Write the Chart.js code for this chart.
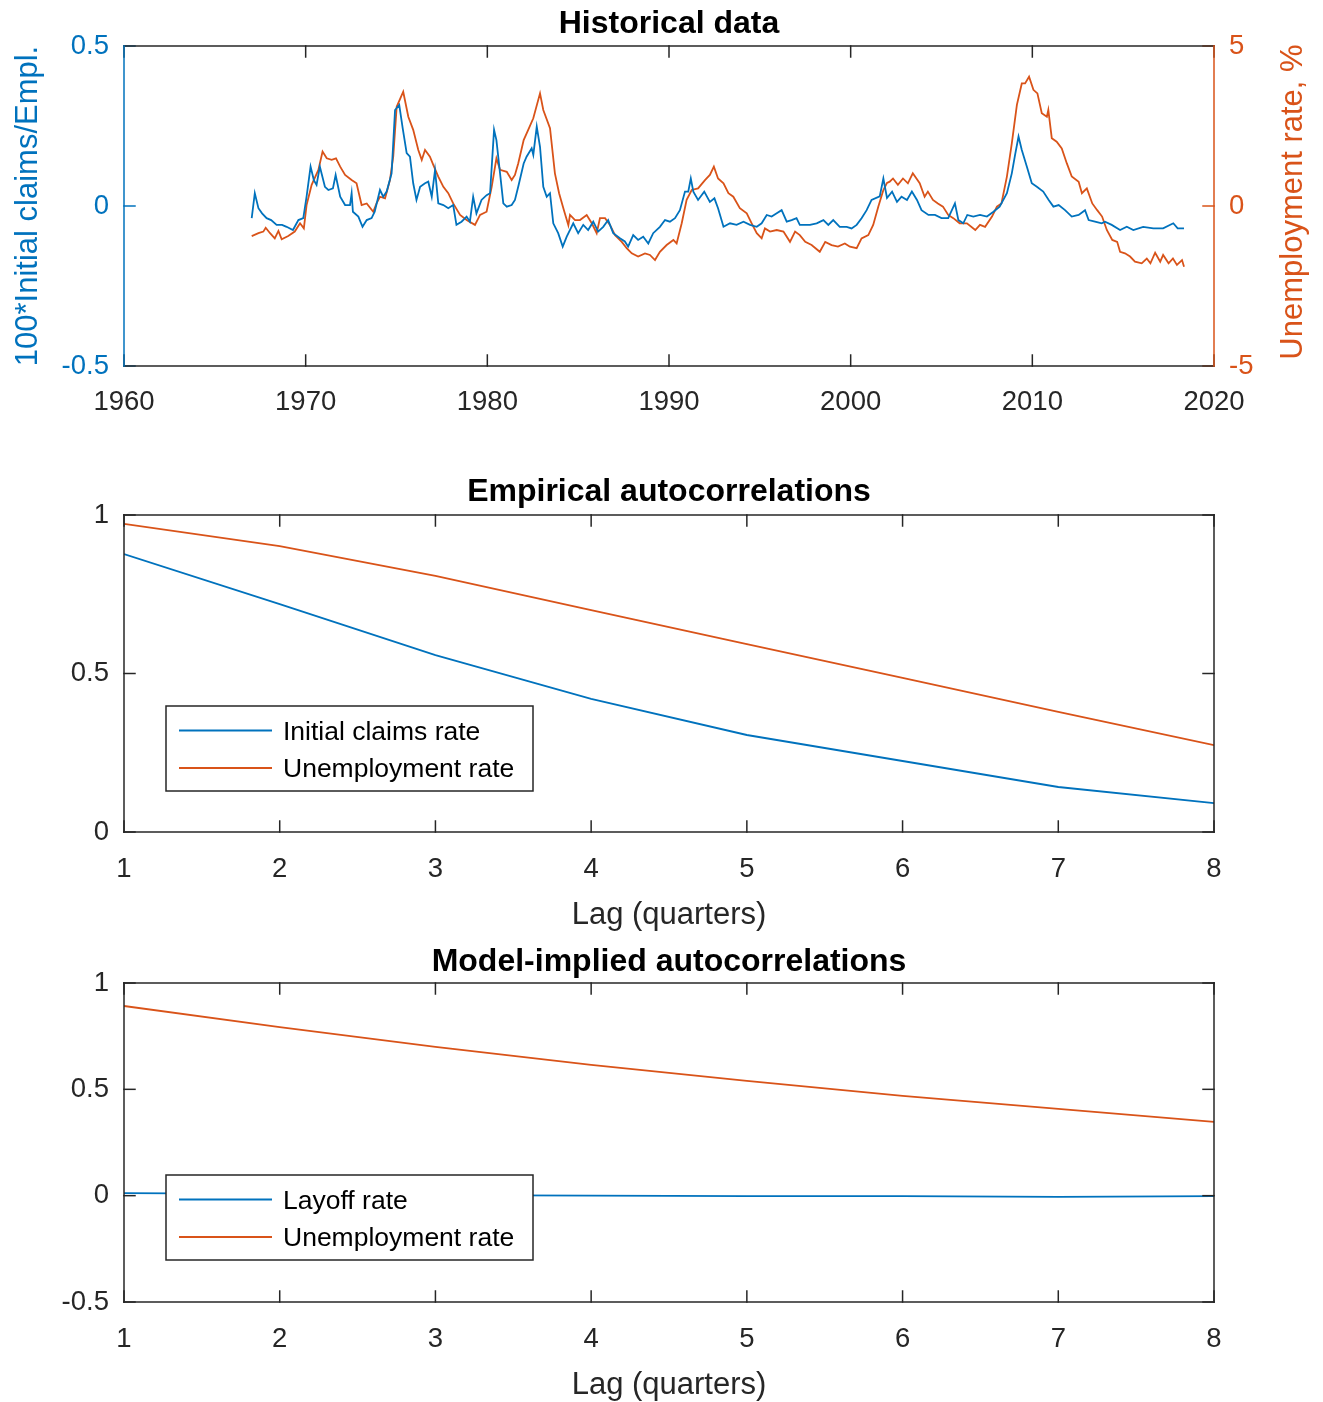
<!DOCTYPE html>
<html><head><meta charset="utf-8">
<script src="https://cdn.jsdelivr.net/npm/chart.js@4.4.0/dist/chart.umd.min.js"></script>
<style>
html,body{margin:0;padding:0;background:#fff;overflow:hidden;}
.wrap{position:absolute;left:0;width:1323px;}
canvas{display:block;}
</style></head><body>
<div class="wrap" style="top:0;height:440px"><canvas id="c1" width="1323" height="440"></canvas></div>
<div class="wrap" style="top:440px;height:500px"><canvas id="c2" width="1323" height="500"></canvas></div>
<div class="wrap" style="top:940px;height:462px"><canvas id="c3" width="1323" height="462"></canvas></div>
<script>
const FONT = "'Liberation Sans', Arial, Helvetica, sans-serif";
const BLUE = '#0072BD', ORANGE = '#D95319', AXIS = '#262626';

// ---- Historical data ----
const claimsYears = [1967.03,1967.2,1967.4,1967.6,1967.85,1968.1,1968.4,1968.7,1968.95,1969.3,1969.6,1969.87,1970.05,1970.27,1970.45,1970.6,1970.78,1971.06,1971.25,1971.5,1971.65,1971.9,1972.17,1972.44,1972.53,1972.6,1972.9,1973.13,1973.36,1973.63,1973.8,1974.09,1974.27,1974.46,1974.73,1974.92,1975.15,1975.34,1975.56,1975.74,1975.92,1976.1,1976.3,1976.57,1976.75,1976.94,1977.12,1977.3,1977.58,1977.85,1978.12,1978.3,1978.58,1978.86,1979.04,1979.22,1979.4,1979.68,1979.96,1980.15,1980.37,1980.5,1980.7,1980.88,1981.07,1981.34,1981.52,1981.7,1982.0,1982.16,1982.44,1982.53,1982.72,1982.9,1983.08,1983.27,1983.45,1983.63,1983.9,1984.15,1984.37,1984.73,1985.0,1985.28,1985.55,1985.83,1986.1,1986.38,1986.65,1986.93,1987.3,1987.57,1987.75,1988.03,1988.3,1988.58,1988.86,1989.13,1989.5,1989.78,1990.05,1990.33,1990.6,1990.88,1991.06,1991.2,1991.34,1991.6,1991.94,1992.25,1992.5,1992.7,1993.0,1993.36,1993.72,1994.1,1994.46,1994.83,1995.1,1995.38,1995.65,1995.93,1996.2,1996.48,1996.75,1997.02,1997.2,1997.76,1998.13,1998.5,1998.77,1999.04,1999.4,1999.78,2000.05,2000.33,2000.6,2000.88,2001.15,2001.6,2001.8,2002.0,2002.28,2002.55,2002.8,2003.1,2003.37,2003.65,2003.9,2004.28,2004.64,2005.0,2005.37,2005.74,2005.93,2006.2,2006.42,2006.75,2007.12,2007.5,2007.86,2008.2,2008.6,2008.87,2009.05,2009.24,2009.42,2009.7,2009.97,2010.25,2010.6,2010.9,2011.16,2011.45,2011.8,2012.17,2012.55,2012.9,2013.1,2013.45,2013.82,2014.0,2014.37,2014.83,2015.2,2015.56,2016.1,2016.66,2017.2,2017.76,2018.0,2018.35];
const claimsValues = [-0.038,0.040,-0.007,-0.023,-0.038,-0.044,-0.059,-0.059,-0.065,-0.075,-0.044,-0.038,0.029,0.123,0.081,0.066,0.123,0.060,0.050,0.055,0.097,0.029,0.003,0.003,0.040,-0.018,-0.033,-0.065,-0.044,-0.038,-0.018,0.050,0.029,0.045,0.102,0.300,0.316,0.243,0.165,0.154,0.071,0.019,0.060,0.071,0.076,0.029,0.112,0.008,0.003,-0.007,0.003,-0.059,-0.049,-0.033,-0.049,0.029,-0.023,0.019,0.034,0.040,0.238,0.206,0.102,0.008,-0.002,0.003,0.019,0.060,0.133,0.154,0.180,0.160,0.248,0.185,0.060,0.029,0.040,-0.054,-0.085,-0.127,-0.096,-0.054,-0.085,-0.059,-0.075,-0.049,-0.080,-0.065,-0.044,-0.085,-0.101,-0.111,-0.127,-0.091,-0.106,-0.096,-0.117,-0.085,-0.065,-0.044,-0.049,-0.038,-0.013,0.045,0.045,0.086,0.045,0.019,0.045,0.013,0.024,-0.007,-0.065,-0.054,-0.059,-0.049,-0.059,-0.065,-0.054,-0.028,-0.033,-0.023,-0.013,-0.049,-0.044,-0.038,-0.059,-0.059,-0.054,-0.044,-0.059,-0.044,-0.065,-0.065,-0.070,-0.059,-0.038,-0.013,0.019,0.030,0.086,0.025,0.045,0.013,0.029,0.019,0.045,0.019,-0.013,-0.028,-0.028,-0.038,-0.038,0.008,-0.044,-0.054,-0.028,-0.033,-0.028,-0.033,-0.018,-0.002,0.040,0.102,0.160,0.217,0.175,0.123,0.071,0.060,0.045,0.019,-0.002,0.003,-0.013,-0.033,-0.028,-0.013,-0.044,-0.049,-0.054,-0.049,-0.059,-0.075,-0.065,-0.075,-0.065,-0.070,-0.070,-0.054,-0.070,-0.070];
const unempYears = [1967.03,1967.4,1967.67,1967.8,1968.04,1968.3,1968.5,1968.68,1969.04,1969.4,1969.69,1969.9,1970.05,1970.33,1970.7,1970.93,1971.16,1971.43,1971.67,1971.9,1972.17,1972.53,1972.8,1973.08,1973.36,1973.72,1973.9,1974.09,1974.37,1974.64,1974.82,1975.01,1975.37,1975.65,1975.92,1976.2,1976.39,1976.57,1976.84,1977.03,1977.3,1977.58,1977.85,1978.12,1978.5,1978.86,1979.32,1979.6,1979.96,1980.24,1980.5,1980.7,1981.07,1981.34,1981.52,1981.7,1982.0,1982.25,1982.53,1982.9,1983.08,1983.45,1983.72,1983.95,1984.2,1984.46,1984.55,1984.83,1985.1,1985.47,1985.75,1986.02,1986.2,1986.48,1986.75,1987.03,1987.4,1987.67,1987.95,1988.3,1988.68,1988.95,1989.23,1989.5,1989.87,1990.24,1990.42,1990.7,1990.97,1991.25,1991.6,1991.98,1992.25,1992.47,1992.7,1993.0,1993.27,1993.54,1993.9,1994.28,1994.55,1994.83,1995.1,1995.28,1995.56,1995.93,1996.3,1996.66,1996.94,1997.2,1997.5,1997.85,1998.3,1998.6,1998.95,1999.3,1999.68,1999.96,2000.33,2000.6,2000.97,2001.24,2001.52,2001.8,2002.0,2002.15,2002.33,2002.6,2002.88,2003.15,2003.42,2003.8,2004.07,2004.25,2004.53,2004.8,2005.08,2005.37,2005.65,2006.0,2006.4,2006.86,2007.12,2007.4,2007.78,2008.05,2008.3,2008.6,2008.87,2009.15,2009.42,2009.6,2009.82,2010.06,2010.28,2010.52,2010.8,2010.88,2011.07,2011.34,2011.62,2011.9,2012.17,2012.55,2012.73,2013.0,2013.3,2013.57,2013.84,2014.1,2014.4,2014.67,2014.83,2015.1,2015.38,2015.65,2016.02,2016.3,2016.5,2016.76,2017.04,2017.2,2017.5,2017.74,2017.96,2018.24,2018.35];
const unempValues = [-0.94,-0.85,-0.80,-0.68,-0.85,-1.01,-0.78,-1.04,-0.94,-0.80,-0.54,-0.70,0.03,0.66,1.13,1.70,1.49,1.44,1.49,1.23,0.97,0.81,0.71,0.03,0.08,-0.18,0.08,0.29,0.24,0.81,1.54,3.10,3.57,2.79,2.38,1.75,1.44,1.75,1.54,1.28,0.92,0.60,0.40,0.08,-0.28,-0.44,-0.59,-0.28,-0.18,0.60,1.49,1.13,1.07,0.81,0.97,1.33,2.06,2.38,2.74,3.52,3.00,2.43,1.02,0.40,-0.10,-0.60,-0.28,-0.44,-0.44,-0.28,-0.54,-0.85,-0.38,-0.38,-0.59,-0.91,-1.12,-1.32,-1.48,-1.58,-1.48,-1.53,-1.69,-1.43,-1.22,-1.06,-1.17,-0.54,0.19,0.50,0.55,0.81,0.97,1.23,0.86,0.71,0.40,0.29,-0.07,-0.23,-0.54,-0.85,-1.01,-0.70,-0.80,-0.75,-0.80,-1.12,-0.80,-0.91,-1.12,-1.22,-1.43,-1.12,-1.22,-1.27,-1.17,-1.27,-1.32,-1.01,-0.91,-0.59,-0.02,0.50,0.72,0.76,0.86,0.66,0.86,0.71,1.02,0.71,0.29,0.45,0.19,0.08,-0.02,-0.28,-0.38,-0.54,-0.54,-0.75,-0.59,-0.65,-0.33,-0.02,0.08,0.92,1.96,3.16,3.83,3.83,4.04,3.63,3.52,2.90,2.79,3.00,2.12,2.01,1.80,1.33,0.92,0.76,0.40,0.55,0.08,-0.13,-0.33,-0.75,-1.06,-1.12,-1.43,-1.48,-1.58,-1.74,-1.79,-1.64,-1.79,-1.46,-1.74,-1.53,-1.79,-1.64,-1.84,-1.69,-1.90];
const yearTicks = [1960,1970,1980,1990,2000,2010,2020];
const claimsTicks = [-0.5,0,0.5];
const unempTicks = [-5,0,5];

// ---- Autocorrelations ----
const lags = [1,2,3,4,5,6,7,8];
const empClaimsAC = [0.877,0.719,0.558,0.420,0.306,0.224,0.142,0.091];
const empUnempAC  = [0.972,0.902,0.808,0.700,0.593,0.486,0.379,0.274];
const modelLayoffAC = [0.012,0.008,0.003,0.000,-0.002,-0.002,-0.006,-0.002];
const modelUnempAC  = [0.892,0.793,0.700,0.615,0.540,0.469,0.408,0.347];
const empTicks = [0,0.5,1];
const modelTicks = [-0.5,0,0.5,1];

const pts = (xs, ys) => xs.map((x, i) => ({x, y: ys[i]}));
const setTicks = arr => (s => { s.ticks = arr.map(v => ({value: v})); });

const frameTicks = {
  id: 'frameTicks',
  afterDatasetsDraw(chart, args, o) {
    const {ctx, chartArea: a, scales} = chart;
    const L = o.len;
    ctx.save(); ctx.lineWidth = 1.5; ctx.lineCap = 'square';
    const seg = (c, x1, y1, x2, y2) => { ctx.strokeStyle = c; ctx.beginPath(); ctx.moveTo(x1, y1); ctx.lineTo(x2, y2); ctx.stroke(); };
    const xs = scales.x;
    xs.ticks.forEach(t => { const p = xs.getPixelForValue(t.value); seg(AXIS, p, a.bottom, p, a.bottom - L); seg(AXIS, p, a.top, p, a.top + L); });
    const yl = scales.y;
    yl.ticks.forEach(t => { const p = yl.getPixelForValue(t.value); seg(o.leftColor, a.left, p, a.left + L, p); });
    const yr = scales[o.rightScale];
    yr.ticks.forEach(t => { const p = yr.getPixelForValue(t.value); seg(o.rightColor, a.right, p, a.right - L, p); });
    seg(AXIS, a.left, a.top, a.right, a.top);
    seg(AXIS, a.left, a.bottom, a.right, a.bottom);
    seg(o.leftColor, a.left, a.top, a.left, a.bottom);
    seg(o.rightColor, a.right, a.top, a.right, a.bottom);
    ctx.restore();
  }
};

const boxLegend = {
  id: 'boxLegend',
  afterDraw(chart, args, o) {
    if (!o.show) return;
    const {ctx, chartArea: a} = chart;
    const x = a.left + o.dx, y = a.top + o.dy;
    ctx.save();
    ctx.fillStyle = '#fff'; ctx.fillRect(x, y, o.w, o.h);
    ctx.strokeStyle = AXIS; ctx.lineWidth = 1.5; ctx.strokeRect(x, y, o.w, o.h);
    chart.data.datasets.forEach((d, i) => {
      const yy = y + o.row0 + i * o.gap;
      ctx.strokeStyle = d.borderColor; ctx.lineWidth = 2;
      ctx.beginPath(); ctx.moveTo(x + 13, yy); ctx.lineTo(x + 106, yy); ctx.stroke();
      ctx.fillStyle = '#000'; ctx.font = '26.5px ' + FONT; ctx.textBaseline = 'middle'; ctx.textAlign = 'left';
      ctx.fillText(d.label, x + 117, yy + 2);
    });
    ctx.restore();
  }
};

const rightTitle = {
  id: 'rightTitle',
  afterDraw(chart, args, o) {
    if (!o.text) return;
    const {ctx, chartArea: a} = chart;
    ctx.save();
    ctx.translate(o.x, (a.top + a.bottom) / 2 + o.dy);
    ctx.rotate(-Math.PI / 2);
    ctx.fillStyle = o.color; ctx.font = o.size + 'px ' + FONT;
    ctx.textAlign = 'center'; ctx.textBaseline = 'middle';
    ctx.fillText(o.text, 0, 0);
    ctx.restore();
  }
};

Chart.defaults.font.family = FONT;
Chart.defaults.animation = false;
Chart.defaults.devicePixelRatio = 1;

const tickFont = {size: 27.5};
const titleFont = {size: 32, weight: 'bold'};
const labelFont = {size: 31};

// Chart 1: Historical data
new Chart(document.getElementById('c1'), {
  type: 'line',
  data: {datasets: [
    {label: '100*Initial claims/Empl.', data: pts(claimsYears, claimsValues), yAxisID: 'y', borderColor: BLUE, borderWidth: 1.8, pointRadius: 0, tension: 0},
    {label: 'Unemployment rate, %', data: pts(unempYears, unempValues), yAxisID: 'y2', borderColor: ORANGE, borderWidth: 1.8, pointRadius: 0, tension: 0}
  ]},
  options: {
    responsive: false, animation: false,
    layout: {padding: 0},
    scales: {
      x: {type: 'linear', min: 1960, max: 2020, afterBuildTicks: setTicks(yearTicks),
          afterFit: s => { s.height = 74; },
          grid: {display: false, drawTicks: false}, border: {display: false},
          ticks: {color: AXIS, font: tickFont, padding: 20, maxRotation: 0, autoSkip: false, callback: v => String(v)}},
      y: {type: 'linear', position: 'left', min: -0.5, max: 0.5, afterBuildTicks: setTicks(claimsTicks),
          afterFit: s => { s.width = 124; },
          grid: {display: false, drawTicks: false}, border: {display: false},
          ticks: {color: BLUE, font: tickFont, padding: 15, callback: v => String(v)},
          title: {display: true, text: '100*Initial claims/Empl.', color: BLUE, font: labelFont, padding: {top: 10, bottom: 0}}},
      y2: {type: 'linear', position: 'right', min: -5, max: 5, afterBuildTicks: setTicks(unempTicks),
          afterFit: s => { s.width = 109; },
          grid: {display: false, drawTicks: false}, border: {display: false},
          ticks: {color: ORANGE, font: tickFont, padding: 15, callback: v => String(v)}}
    },
    plugins: {
      legend: {display: false}, tooltip: {enabled: false},
      title: {display: true, text: 'Historical data', color: '#000', font: titleFont, fullSize: false, padding: {top: 5.2, bottom: 2.4}},
      frameTicks: {len: 11, leftColor: BLUE, rightColor: ORANGE, rightScale: 'y2'},
      boxLegend: {show: false},
      rightTitle: {text: 'Unemployment rate, %', color: ORANGE, size: 31, x: 1293, dy: -4}
    }
  },
  plugins: [frameTicks, boxLegend, rightTitle]
});

function acChart(id, title, ds, yMin, yMax, yTicks, titlePad, xHeight, xTitlePadBottom, legendDy) {
  return new Chart(document.getElementById(id), {
    type: 'line',
    data: {datasets: ds.map(d => ({label: d.label, data: pts(lags, d.values), borderColor: d.color, borderWidth: 1.8, pointRadius: 0, tension: 0}))},
    options: {
      responsive: false, animation: false,
      layout: {padding: 0},
      scales: {
        x: {type: 'linear', min: 1, max: 8, afterBuildTicks: setTicks(lags),
            afterFit: s => { s.height = xHeight; },
            grid: {display: false, drawTicks: false}, border: {display: false},
            ticks: {color: AXIS, font: tickFont, padding: 21, maxRotation: 0, autoSkip: false, callback: v => String(v)},
            title: {display: true, text: 'Lag (quarters)', color: AXIS, font: labelFont, padding: {top: 0, bottom: xTitlePadBottom}}},
        y: {type: 'linear', position: 'left', min: yMin, max: yMax, afterBuildTicks: setTicks(yTicks),
            afterFit: s => { s.width = 124; },
            grid: {display: false, drawTicks: false}, border: {display: false},
            ticks: {color: AXIS, font: tickFont, padding: 15, callback: v => String(v)}},
        yr: {type: 'linear', position: 'right', min: yMin, max: yMax, afterBuildTicks: setTicks(yTicks),
            afterFit: s => { s.width = 109; },
            grid: {display: false, drawTicks: false}, border: {display: false},
            ticks: {display: false}}
      },
      plugins: {
        legend: {display: false}, tooltip: {enabled: false},
        title: {display: true, text: title, color: '#000', font: titleFont, fullSize: false, padding: titlePad},
        frameTicks: {len: 11, leftColor: AXIS, rightColor: AXIS, rightScale: 'y'},
        boxLegend: {show: true, dx: 42, dy: legendDy, w: 367, h: 85, row0: 24.5, gap: 37.5},
        rightTitle: {text: ''}
      }
    },
    plugins: [frameTicks, boxLegend, rightTitle]
  });
}

acChart('c2', 'Empirical autocorrelations',
  [{label: 'Initial claims rate', values: empClaimsAC, color: BLUE},
   {label: 'Unemployment rate', values: empUnempAC, color: ORANGE}],
  0, 1, empTicks, {top: 33.2, bottom: 3.4}, 108, 6.4, 191);

acChart('c3', 'Model-implied autocorrelations',
  [{label: 'Layoff rate', values: modelLayoffAC, color: BLUE},
   {label: 'Unemployment rate', values: modelUnempAC, color: ORANGE}],
  -0.5, 1, modelTicks, {top: 3.2, bottom: 1.4}, 100, -1.6, 192);
</script>
</body></html>
